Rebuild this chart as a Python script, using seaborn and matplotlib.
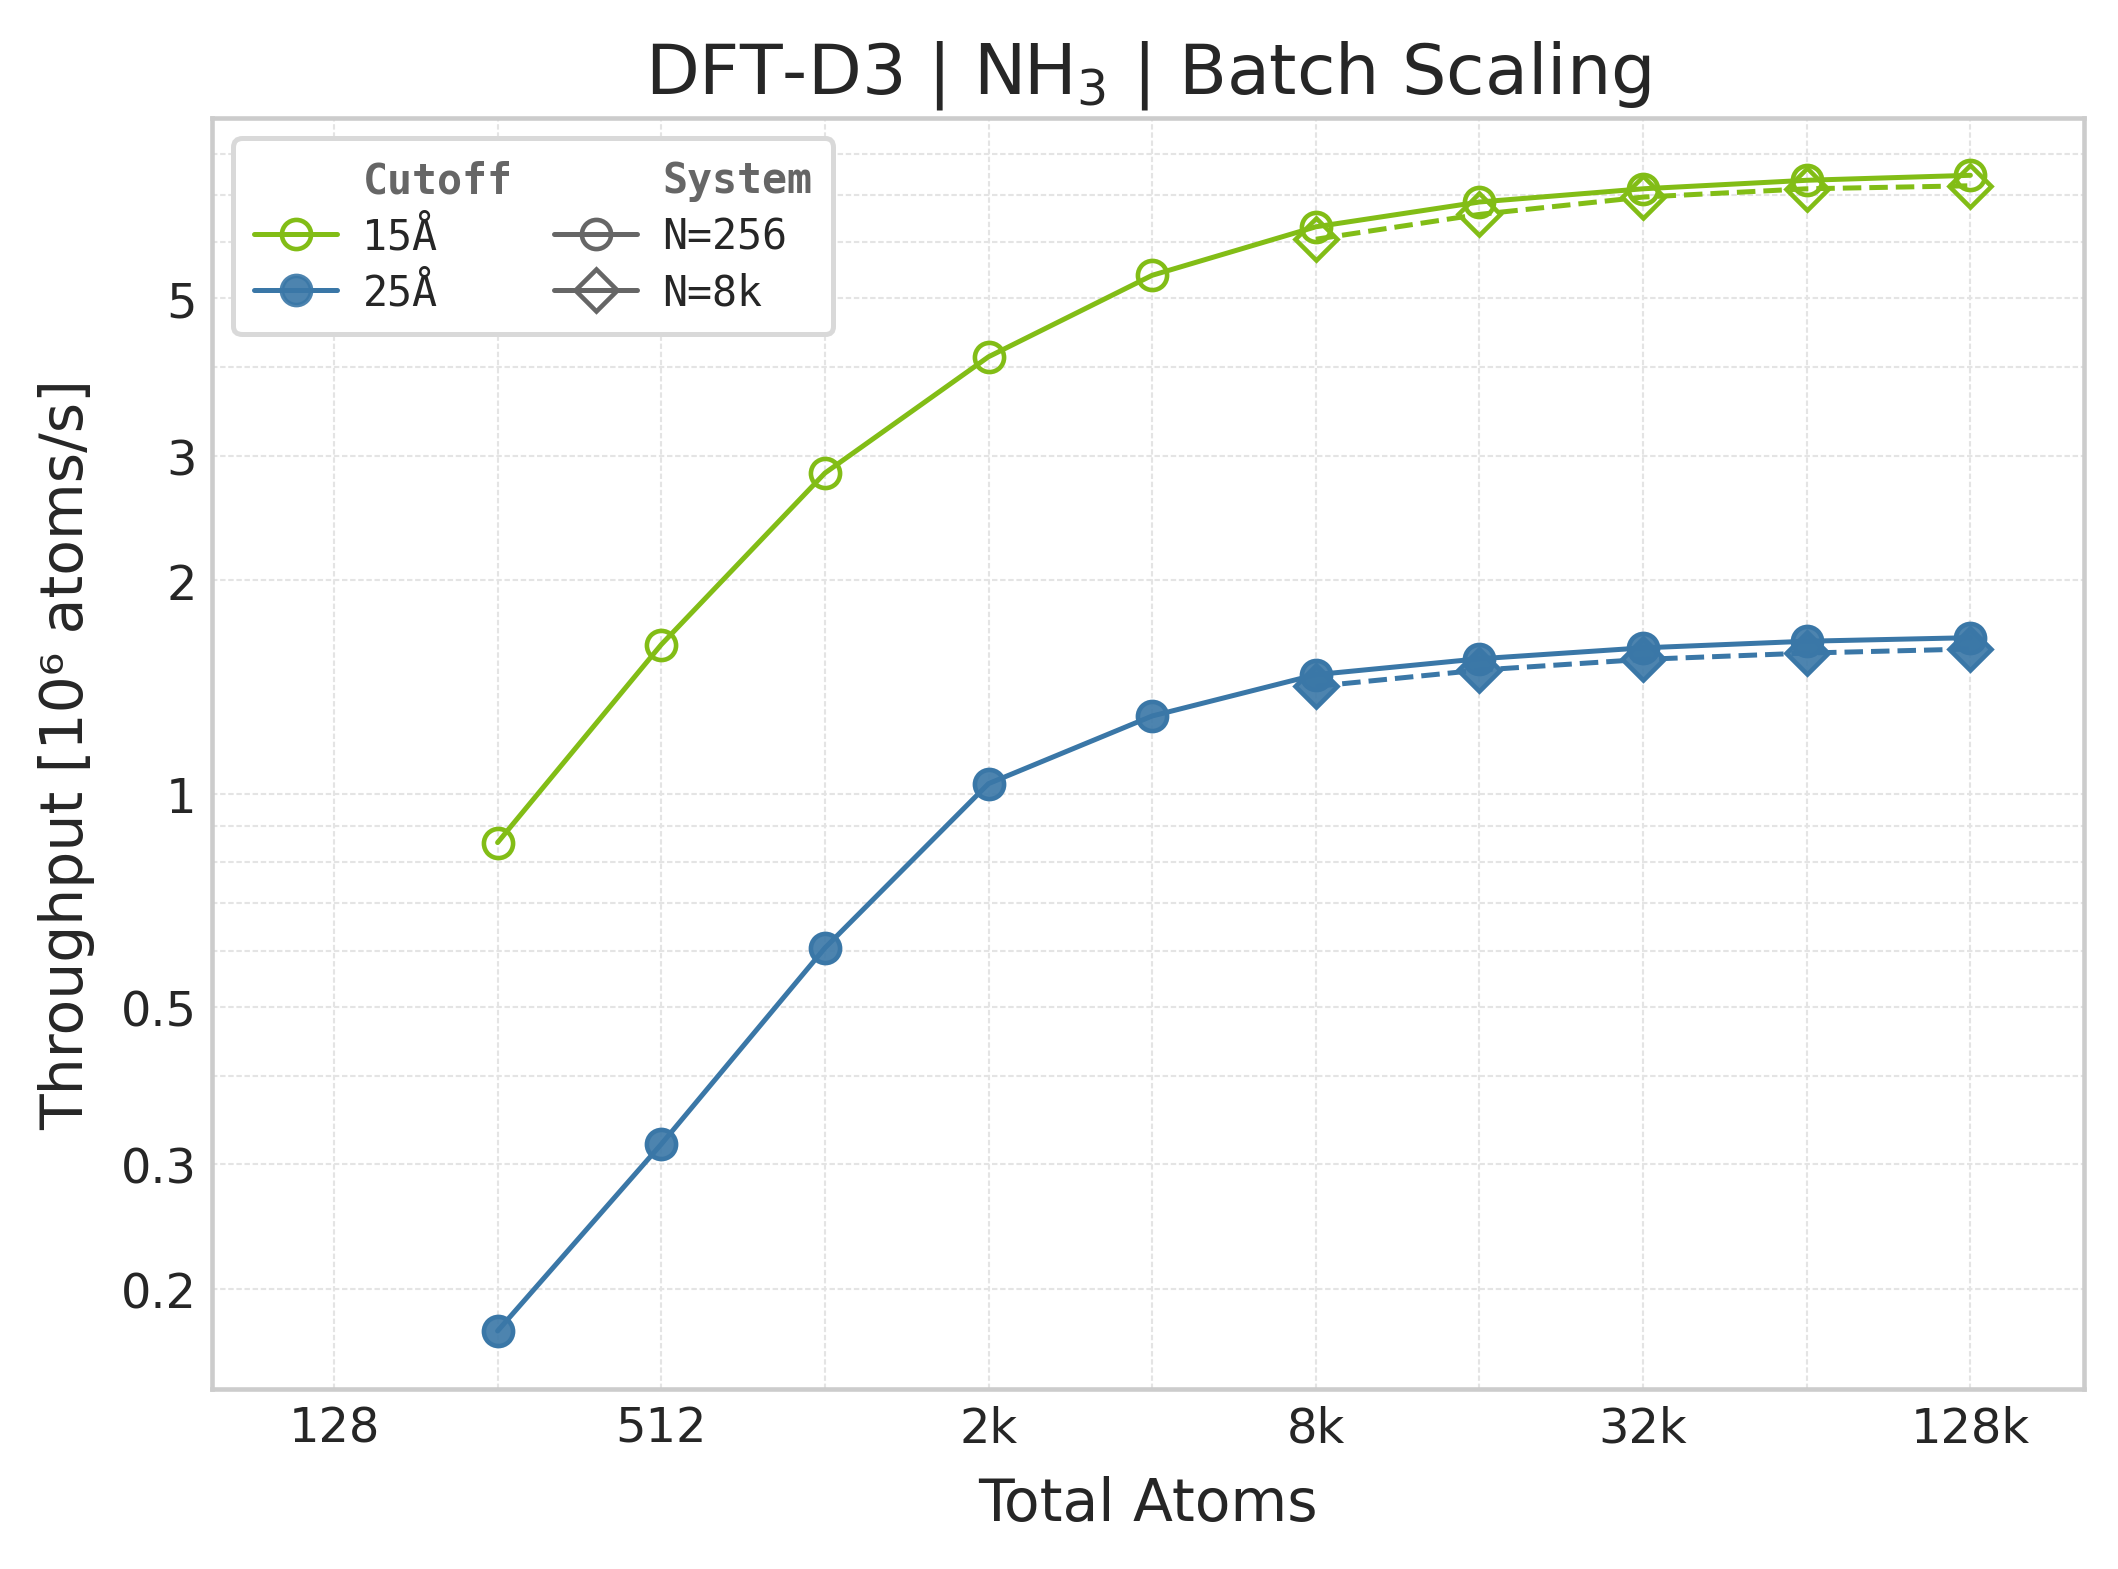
import numpy as np
import seaborn as sns
import matplotlib.pyplot as plt
from matplotlib.lines import Line2D
from matplotlib.ticker import FixedLocator, NullFormatter, LogLocator

# total atoms in the batch (x) and throughput in 1e6 atoms/s (y)
atoms_256 = [256, 512, 1024, 2048, 4096, 8192, 16384, 32768, 65536, 131072]
atoms_8k = [8192, 16384, 32768, 65536, 131072]

tp_15_n256 = [0.853, 1.623, 2.834, 4.136, 5.39, 6.31, 6.84, 7.14, 7.34, 7.46]
tp_15_n8k = [6.06, 6.57, 6.95, 7.14, 7.21]
tp_25_n256 = [0.1744, 0.320, 0.6055, 1.033, 1.287, 1.472, 1.55, 1.606, 1.641, 1.66]
tp_25_n8k = [1.417, 1.494, 1.547, 1.579, 1.60]

x_ticks = [128, 512, 2048, 8192, 32768, 131072]
x_ticklabels = ["128", "512", "2k", "8k", "32k", "128k"]
x_minor = [256, 1024, 4096, 16384, 65536]
y_ticks = [0.2, 0.3, 0.5, 1, 2, 3, 5]
y_ticklabels = ["0.2", "0.3", "0.5", "1", "2", "3", "5"]

GREEN = "#82bd16"
BLUE = "#3a77a7"
BLUE_FACE = (0.227, 0.467, 0.655, 0.9)

sns.set_theme(style="whitegrid")
plt.rcParams["font.family"] = ["DejaVu Sans"]

fig, ax = plt.subplots(figsize=(7.06, 5.2333), dpi=300)
plt.subplots_adjust(left=0.1003, right=0.9839, top=0.9245, bottom=0.1146)

common = dict(ax=ax, lw=1.2, markersize=7, mew=1.1)
# 15 A cutoff: hollow markers
sns.lineplot(x=atoms_256, y=tp_15_n256, color=GREEN, marker="o",
             mfc="none", mec=GREEN, **common)
sns.lineplot(x=atoms_8k, y=tp_15_n8k, color=GREEN, marker="D", ls="--",
             mfc="none", mec=GREEN, **common)
# 25 A cutoff: filled markers
sns.lineplot(x=atoms_256, y=tp_25_n256, color=BLUE, marker="o",
             mfc=BLUE_FACE, mec=BLUE, **common)
sns.lineplot(x=atoms_8k, y=tp_25_n8k, color=BLUE, marker="D", ls="--",
             mfc=BLUE_FACE, mec=BLUE, **common)

# axes scales / ticks
ax.set_xscale("log", base=2)
ax.set_yscale("log")
ax.xaxis.set_major_locator(FixedLocator(x_ticks))
ax.set_xticklabels(x_ticklabels)
ax.xaxis.set_minor_locator(FixedLocator(x_minor))
ax.xaxis.set_minor_formatter(NullFormatter())
ax.yaxis.set_major_locator(FixedLocator(y_ticks))
ax.set_yticklabels(y_ticklabels)
ax.yaxis.set_minor_locator(LogLocator(base=10, subs=np.arange(1, 10)))
ax.yaxis.set_minor_formatter(NullFormatter())
ax.set_xlim(76.5, 212000)
ax.set_ylim(0.1444, 9.0)
ax.tick_params(axis="both", which="both", length=0, pad=3.8)
ax.tick_params(axis="both", which="major", labelsize=11.5)

ax.grid(True, which="both", color="#e4e4e4", lw=0.5, ls=(0, (2.6, 1.3)))
for sp in ax.spines.values():
    sp.set_color("#cccccc")
    sp.set_linewidth(1.1)

ax.set_xlabel("Total Atoms", fontsize=14, labelpad=5.5)
ax.set_ylabel("Throughput [10⁶ atoms/s]", fontsize=14, labelpad=6)
ax.set_title(r"DFT-D3 | NH$_3$ | Batch Scaling", fontsize=16.8)

# legend: two columns with headers
blank = Line2D([], [], ls="none", marker="none")
handles = [
    blank,
    Line2D([], [], color=GREEN, lw=1.2, marker="o", ms=7, mfc="none", mew=1.1),
    Line2D([], [], color=BLUE, lw=1.2, marker="o", ms=7, mfc=BLUE_FACE, mew=1.1),
    blank,
    Line2D([], [], color="#666666", lw=1.2, marker="o", ms=7, mfc="none", mew=1.1),
    Line2D([], [], color="#666666", lw=1.2, marker="D", ms=7, mfc="none", mew=1.1),
]
labels = ["Cutoff", "15Å", "25Å", "System", "N=256", "N=8k"]
leg = ax.legend(handles, labels, loc="upper left", ncol=2, frameon=True,
                prop={"family": "DejaVu Sans Mono", "size": 10},
                columnspacing=1.0, labelspacing=0.34, borderpad=0.5,
                handletextpad=0.6, framealpha=1.0)
leg.get_frame().set_edgecolor("#d9d9d9")
leg.get_frame().set_linewidth(1.2)
for i in (0, 3):
    leg.get_texts()[i].set_fontweight("bold")
    leg.get_texts()[i].set_color("#666666")

plt.savefig("out.png", dpi=300)
plt.close()
